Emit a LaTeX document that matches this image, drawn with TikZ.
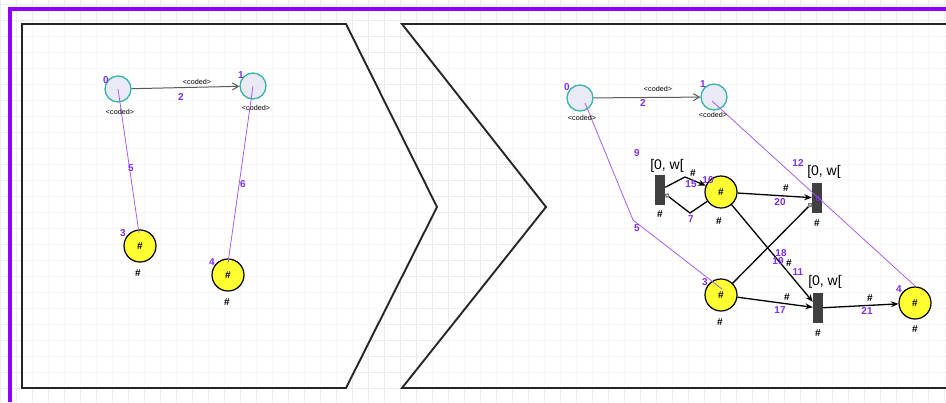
\documentclass[tikz,border=0pt]{standalone}
\usepackage{fontspec}
\setmainfont{Liberation Sans}
\usetikzlibrary{arrows.meta}

\definecolor{frameviolet}{RGB}{145,0,255}
\definecolor{idpurple}{RGB}{125,45,235}
\definecolor{linkpurple}{RGB}{165,85,245}
\definecolor{tealring}{RGB}{55,180,170}
\definecolor{lavender}{RGB}{234,234,247}
\definecolor{tokenyellow}{RGB}{255,255,50}
\definecolor{gridgray}{RGB}{236,236,236}

\begin{document}
\begin{tikzpicture}[x=1pt,y=-1pt,
  gridline/.style={draw=gridgray,line width=0.6pt},
  panel/.style={draw=black!85,line width=1.9pt,line join=miter},
  coloured/.style={circle,draw=tealring,line width=1.3pt,fill=lavender,minimum size=26pt,inner sep=0pt},
  token/.style={circle,draw=black,line width=1.2pt,fill=tokenyellow,minimum size=32pt,inner sep=0pt,font=\fontsize{10}{10}\selectfont\bfseries},
  transbar/.style={rectangle,fill=black!75,minimum width=10pt,minimum height=30pt,inner sep=0pt},
  idlbl/.style={text=idpurple,font=\fontsize{10}{10}\selectfont\bfseries,inner sep=0pt},
  hashlbl/.style={font=\fontsize{10}{10}\selectfont\bfseries,inner sep=0pt},
  codedlbl/.style={font=\fontsize{7.2}{7.5}\selectfont,inner sep=0pt},
  guardlbl/.style={font=\fontsize{14}{14}\selectfont,inner sep=0pt},
  flowarc/.style={draw=black,line width=1.3pt,-{Stealth[length=7.5pt,width=6pt]}},
  circarc/.style={draw=black,line width=1.3pt,-{Circle[open,length=5pt,width=5pt,black!50]}},
  typearc/.style={draw=black!65,line width=1pt,-{Straight Barb[length=6pt,width=7pt]}},
  linkline/.style={draw=linkpurple,line width=0.75pt}
]
\useasboundingbox (0,0) rectangle (946,402);

% background grid
\foreach \gx in {0,16,...,944} \draw[gridline] (\gx,0) -- (\gx,402);
\foreach \gy in {4,20,...,400} \draw[gridline] (0,\gy) -- (946,\gy);

% outer frame
\draw[frameviolet,line width=3.5pt] (10,402) -- (10,9) -- (946,9);

% the two chevron panels
\fill[white,fill opacity=0.65] (22,24) -- (346,24) -- (437,207) -- (346,388) -- (22,388) -- cycle;
\draw[panel] (22,24) -- (346,24) -- (437,207) -- (346,388) -- (22,388) -- cycle;
\fill[white,fill opacity=0.65] (946,24) -- (402,24) -- (546,207) -- (402,388) -- (946,388) -- cycle;
\draw[panel] (946,24) -- (402,24) -- (546,207) -- (402,388) -- (946,388);

% ---------------- left panel ----------------
\node[coloured] (lp0) at (118,89) {};
\node[coloured] (lp1) at (253,86) {};
\node[token] (lp3) at (140,246) {\#};
\node[token] (lp4) at (228,275) {\#};
\coordinate (lp3in) at (139,233);
\coordinate (lp4in) at (228,263);

\draw[typearc] (lp0) -- (lp1);
\draw[linkline] (lp0.center) -- (lp3in);
\draw[linkline] (lp1.center) -- (lp4in);

\node[idlbl] at (106,80) {0};
\node[codedlbl] at (120,112) {<coded>};
\node[idlbl] at (241,75) {1};
\node[codedlbl] at (256,108) {<coded>};
\node[codedlbl] at (197,82) {<coded>};
\node[idlbl] at (181,97) {2};
\node[idlbl] at (123,233) {3};
\node[hashlbl] at (138,273) {\#};
\node[idlbl] at (212,262) {4};
\node[hashlbl] at (227,302) {\#};
\node[idlbl] at (131,168) {5};
\node[idlbl] at (243,184) {6};

% ---------------- right panel ----------------
\node[coloured] (rp0) at (580,98) {};
\node[coloured] (rp1) at (714,97) {};
\node[transbar] (t9) at (660,190) {};
\node[token] (rp10) at (721,192) {\#};
\node[transbar] (t8) at (817,198) {};
\node[token] (rp3) at (721,295) {\#};
\node[transbar] (t11) at (818,308) {};
\node[token] (rp4) at (915,303) {\#};

\coordinate (b15) at (685,177);
\coordinate (b7) at (690,213);
\coordinate (rp0s) at (585,103);
\coordinate (b5) at (633,220);
\coordinate (rp3in) at (722,289);
\coordinate (rp1s) at (712,101);
\coordinate (rp4in) at (915,286);

\draw[typearc] (rp0) -- (rp1);
\draw[flowarc] (t9) -- (b15) -- (rp10);
\draw[circarc] (rp10) -- (b7) -- (t9);
\draw[flowarc] (rp10) -- (t8);
\draw[circarc] (rp3) -- (t8);
\draw[flowarc] (rp10) -- (t11);
\draw[flowarc] (rp3) -- (t11);
\draw[flowarc] (t11) -- (rp4);

\draw[linkline] (rp0s) -- (b5) -- (rp3in);
\draw[linkline] (rp1s) -- (rp4in);

\node[idlbl] at (567,87) {0};
\node[codedlbl] at (582,118) {<coded>};
\node[idlbl] at (703,84) {1};
\node[codedlbl] at (713,115) {<coded>};
\node[codedlbl] at (658,89) {<coded>};
\node[idlbl] at (643,103) {2};

\node[idlbl] at (637,153) {9};
\node[guardlbl] at (667,166) {[0, w[};
\node[hashlbl] at (660,214) {\#};
\node[idlbl] at (708,180) {10};
\node[hashlbl] at (719,221) {\#};
\node[hashlbl] at (693,173) {\#};
\node[idlbl] at (691,184) {15};
\node[idlbl] at (691,219) {7};

\node[hashlbl] at (786,188) {\#};
\node[idlbl] at (780,202) {20};
\node[idlbl] at (798,163) {12};
\node[guardlbl] at (824,172) {[0, w[};
\node[idlbl,font=\fontsize{7.5}{7.5}\selectfont\bfseries] at (818,199) {8};
\node[hashlbl] at (817,223) {\#};

\node[idlbl] at (637,228) {5};
\node[idlbl] at (781,253) {18};
\node[idlbl] at (778,261) {19};
\node[hashlbl] at (789,263) {\#};
\node[idlbl] at (798,272) {11};

\node[idlbl] at (705,282) {3};
\node[hashlbl] at (720,322) {\#};
\node[guardlbl] at (825,282) {[0, w[};
\node[hashlbl] at (818,333) {\#};
\node[hashlbl] at (787,297) {\#};
\node[idlbl] at (780,310) {17};
\node[hashlbl] at (870,298) {\#};
\node[idlbl] at (867,311) {21};
\node[idlbl] at (899,289) {4};
\node[hashlbl] at (915,329) {\#};
\end{tikzpicture}
\end{document}
